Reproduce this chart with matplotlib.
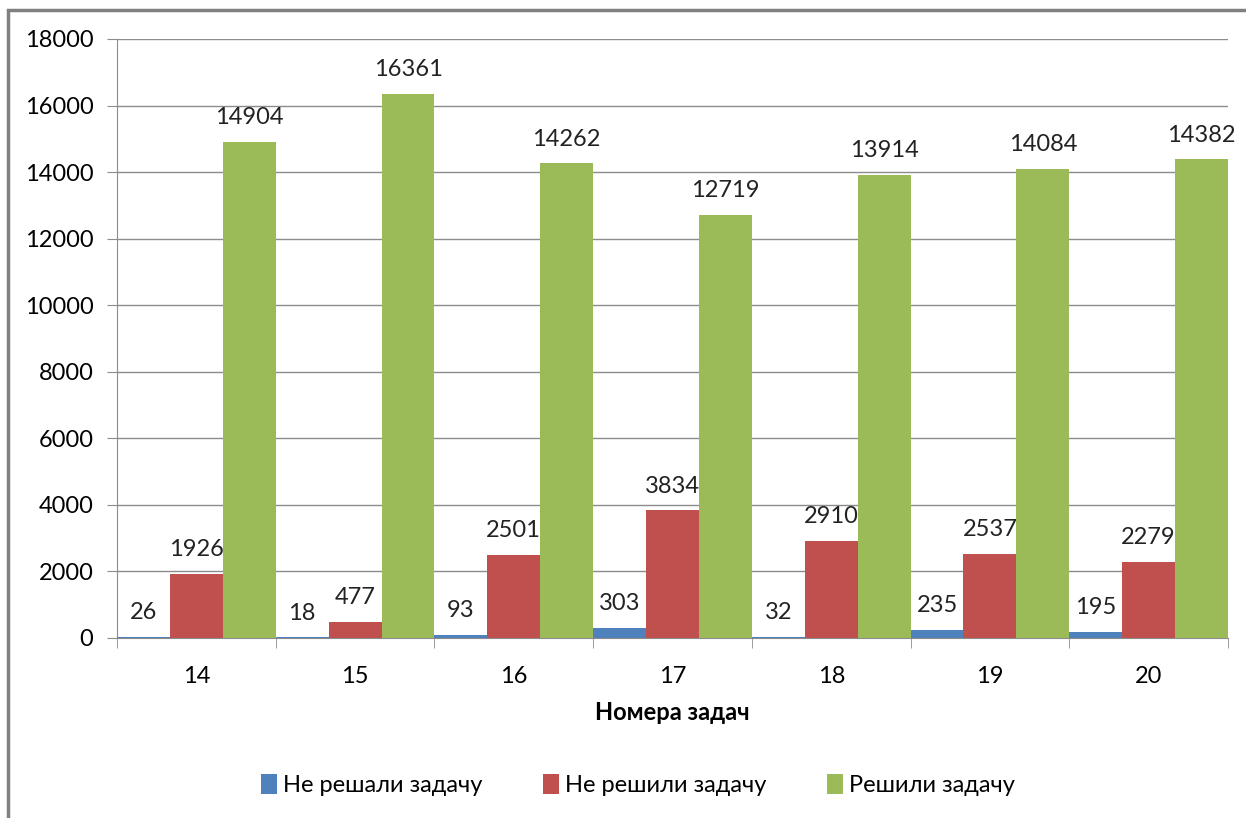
import numpy as np
import matplotlib.pyplot as plt
from matplotlib.patches import Rectangle

plt.rcParams['font.family'] = ['Lato', 'DejaVu Sans']

tasks = ['14', '15', '16', '17', '18', '19', '20']
not_tried = [26, 18, 93, 303, 32, 235, 195]
not_solved = [1926, 477, 2501, 3834, 2910, 2537, 2279]
solved = [14904, 16361, 14262, 12719, 13914, 14084, 14382]
series_names = ['Не решали задачу', 'Не решили задачу', 'Решили задачу']
colors = ['#4F81BD', '#C0504D', '#9BBB59']

fig = plt.figure(figsize=(12.46, 8.18), dpi=100)
ax = fig.add_axes([117 / 1246, 1 - 638 / 818, (1228 - 117) / 1246, (638 - 39) / 818])

x = np.arange(len(tasks))
w = 1 / 3
for i, (vals, name, c) in enumerate(zip([not_tried, not_solved, solved], series_names, colors)):
    pos = x - 0.5 + w * (i + 0.5)
    bars = ax.bar(pos, vals, width=w, color=c, label=name, zorder=3)
    for b, v in zip(bars, vals):
        ax.annotate(str(v), (b.get_x() + b.get_width() / 2, v), xytext=(0, 10),
                    textcoords='offset points', ha='center', va='bottom',
                    fontsize=17, color='#222222')

ax.set_xlim(-0.5, len(tasks) - 0.5)
ax.set_ylim(0, 18000)
ax.set_yticks(range(0, 18001, 2000))
ax.yaxis.grid(True, color='#8c8c8c', linewidth=1, zorder=0)
ax.set_xticks(x)
ax.set_xticklabels(tasks)
ax.set_xticks(np.arange(-0.5, len(tasks)), minor=True)
ax.tick_params(axis='x', which='major', length=0, pad=20, labelsize=17)
ax.tick_params(axis='x', which='minor', length=7, color='#8c8c8c', direction='out')
ax.tick_params(axis='y', length=7, color='#8c8c8c', labelsize=17, pad=10)
for s in ['top', 'right']:
    ax.spines[s].set_visible(False)
for s in ['left', 'bottom']:
    ax.spines[s].set_color('#8c8c8c')
ax.set_xlabel('Номера задач', fontsize=17, fontweight='bold', labelpad=10)

fig.legend(loc='center', bbox_to_anchor=(638 / 1246, 1 - 785 / 818), ncol=3,
           frameon=False, fontsize=17, handlelength=0.65, handleheight=0.9,
           handletextpad=0.25, columnspacing=2.6)

fig.patches.append(Rectangle((8 / 1246, -0.05), 1.1, 1 - 10 / 818 + 0.05,
                             transform=fig.transFigure, fill=False,
                             edgecolor='#808080', linewidth=2.5))

fig.savefig('out.png', dpi=100)
